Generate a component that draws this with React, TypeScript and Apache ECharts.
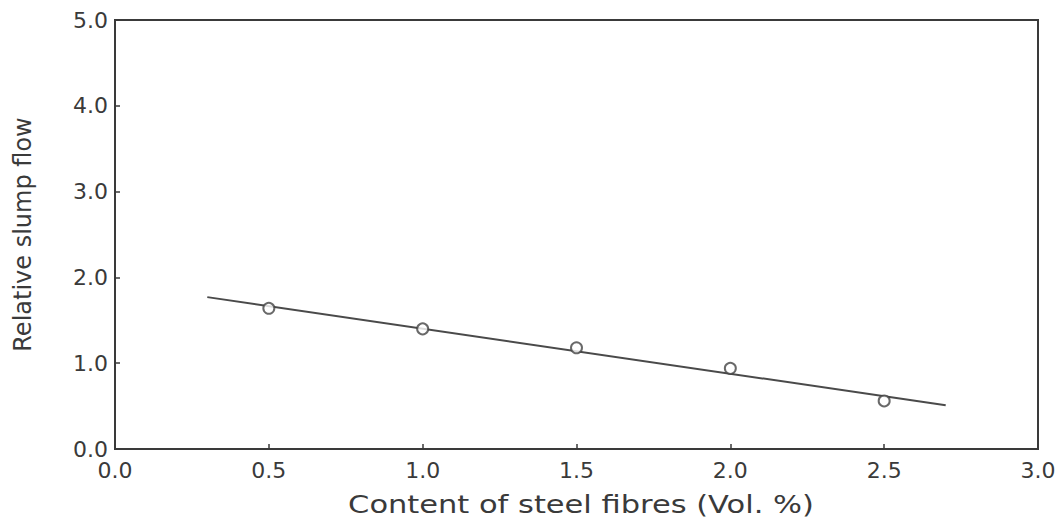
import React, { useEffect, useRef } from "react";
import * as echarts from "echarts";

const fibreContent = [0.5, 1.0, 1.5, 2.0, 2.5];
const relativeSlump = [1.64, 1.4, 1.18, 0.94, 0.56];
const fitX = [0.3, 2.7];
const fitY = [1.77, 0.51];
const xTitle = "Content of steel fibres (Vol. %)";
const yTitle = "Relative slump flow";

const FONT = "DejaVu Sans";
const TXT = "#3a3a3a";

export default function App() {
  const ref = useRef<HTMLDivElement>(null);
  useEffect(() => {
    if (!ref.current) return;
    const chart = echarts.init(ref.current, undefined, { renderer: "svg" });
    chart.setOption({
      animation: false,
      backgroundColor: "#ffffff",
      grid: {
        left: 115,
        top: 20,
        right: 25,
        bottom: 71,
        show: true,
        borderColor: "#3a3a3a",
        borderWidth: 2,
      },
      graphic: [
        {
          type: "text",
          x: 581,
          y: 505,
          scaleX: 1.27,
          style: {
            text: xTitle,
            font: `24px "${FONT}"`,
            fill: TXT,
            textAlign: "center",
            textVerticalAlign: "middle",
          },
        },
      ],
      xAxis: {
        type: "value",
        min: 0,
        max: 3,
        interval: 0.5,
        axisLine: { show: true, lineStyle: { color: "#3a3a3a", width: 2 } },
        axisTick: { show: true, inside: true, length: 5, lineStyle: { color: "#3a3a3a", width: 1.5 } },
        axisLabel: {
          fontFamily: FONT,
          fontSize: 22,
          color: TXT,
          margin: 10,
          formatter: (v: number) => v.toFixed(1),
        },
        splitLine: { show: false },
      },
      yAxis: {
        type: "value",
        min: 0,
        max: 5,
        interval: 1,
        name: yTitle,
        nameLocation: "middle",
        nameGap: 80,
        nameRotate: 90,
        nameTextStyle: { fontFamily: FONT, fontSize: 24, color: TXT },
        axisLine: { show: true, lineStyle: { color: "#3a3a3a", width: 2 } },
        axisTick: { show: true, inside: true, length: 5, lineStyle: { color: "#3a3a3a", width: 1.5 } },
        axisLabel: {
          fontFamily: FONT,
          fontSize: 22,
          color: TXT,
          margin: 7,
          formatter: (v: number) => v.toFixed(1),
        },
        splitLine: { show: false },
      },
      series: [
        {
          type: "line",
          data: fitX.map((x, i) => [x, fitY[i]]),
          symbol: "none",
          lineStyle: { color: "#4a4a4a", width: 2 },
          z: 2,
        },
        {
          type: "scatter",
          data: fibreContent.map((x, i) => [x, relativeSlump[i]]),
          symbol: "circle",
          symbolSize: 11,
          itemStyle: { color: "#ffffff", borderColor: "#444444", borderWidth: 2 },
          z: 3,
        },
      ],
    });
    return () => chart.dispose();
  }, []);
  return (
    <div
      ref={ref}
      style={{ position: "absolute", left: 0, top: 0, width: 1063, height: 520 }}
    />
  );
}
